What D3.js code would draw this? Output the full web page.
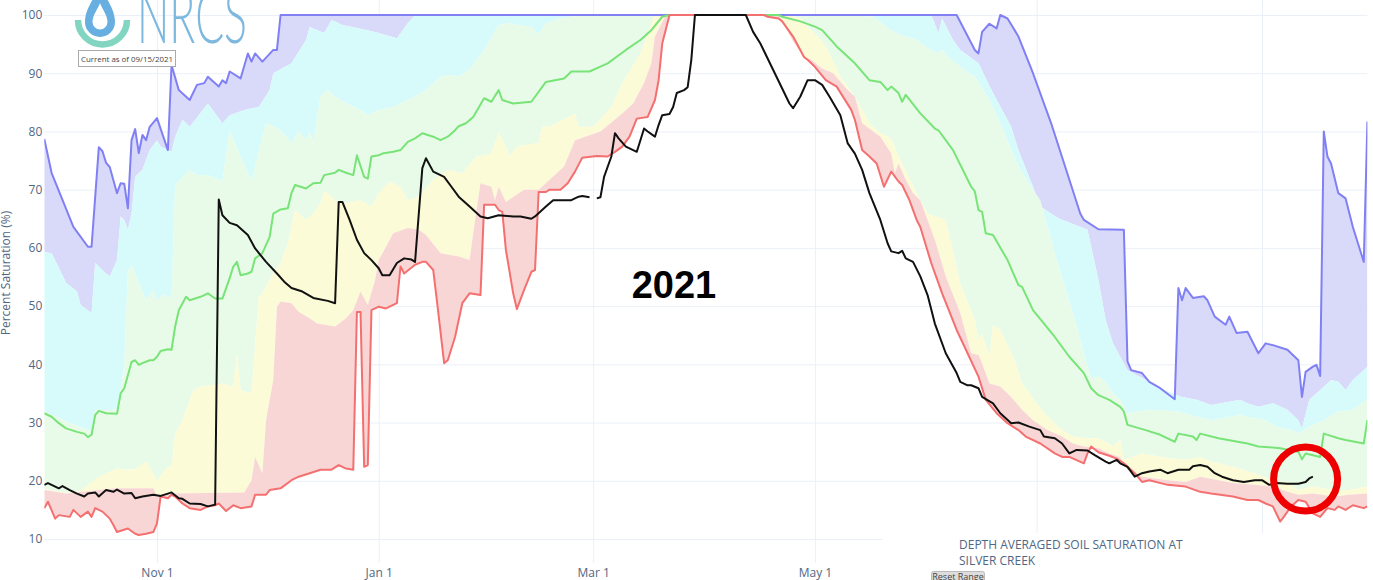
<!DOCTYPE html>
<html>
<head>
<meta charset="utf-8">
<script src="https://cdn.jsdelivr.net/npm/d3@7"></script>
<style>
  body { margin: 0; background: #fff; }
  svg { display: block; font-family: "Open Sans", sans-serif; }
</style>
</head>
<body>
<svg id="chart" width="1373" height="580"></svg>
<script>
// Depth averaged soil saturation, water year Oct 2020 - Sep 2021.
// dates are "MM-DD" (Oct-Dec = 2020, Jan-Sep = 2021), values in %
var maxSat = [["10-01",78.7],["10-03",72.9],["10-09",63.6],["10-13",60.2],["10-14",60.2],["10-16",77.3],["10-17",76.6],["10-18",74.6],["10-19",73.9],["10-21",69.4],["10-22",71.1],["10-23",71.0],["10-24",66.8],["10-25",78.5],["10-26",80.4],["10-27",76.3],["10-28",79.4],["10-29",78.5],["10-30",80.8],["11-01",82.3],["11-04",76.8],["11-05",91.4],["11-07",87.1],["11-10",85.4],["11-12",88],["11-14",88.3],["11-15",89.4],["11-18",87.7],["11-19",88.8],["11-20",88.3],["11-21",90.3],["11-24",89.1],["11-26",93.4],["11-27",92],["11-28",93.4],["11-30",92],["12-03",94],["12-04",94],["12-05",100],["06-09",100],["06-14",94],["06-15",93.4],["06-16",97.1],["06-18",98.5],["06-20",97.7],["06-21",100],["06-23",99.4],["06-26",96.3],["06-30",90],["07-05",81.4],["07-13",65.9],["07-14",64.8],["07-18",63.2],["07-25",63.1],["07-26",40.5],["07-27",39],["07-30",38.5],["08-01",37],["08-04",35.9],["08-08",34],["08-09",53.1],["08-10",51],["08-11",53.1],["08-13",51.4],["08-16",51.7],["08-17",51],["08-19",48.2],["08-22",46.8],["08-23",48.2],["08-25",45.4],["08-28",45.6],["08-31",41.9],["09-02",43.6],["09-04",43.3],["09-08",42.5],["09-11",40.7],["09-12",34.4],["09-13",38.7],["09-15",39.6],["09-16",39.9],["09-17",38],["09-18",80],["09-19",75.7],["09-20",74.5],["09-22",69.4],["09-24",68.5],["09-26",63.6],["09-29",57.6],["09-30",81.7]];

var p90 = [["10-01",59.3],["10-03",59.1],["10-07",54],["10-10",52.5],["10-11",50.2],["10-14",48.8],["10-15",57.4],["10-18",55.6],["10-19",55.1],["10-21",57.9],["10-22",65.4],["10-23",64.8],["10-24",63.1],["10-25",65.9],["10-26",72.2],["10-28",73.4],["10-30",76.8],["11-01",78.5],["11-02",77.4],["11-05",76.5],["11-06",79.1],["11-08",82],["11-10",80.8],["11-15",84.8],["11-19",81.4],["11-21",82.8],["11-25",83.7],["11-29",84.2],["12-02",87.1],["12-03",90],["12-08",91.7],["12-12",95.7],["12-13",98],["12-14",97.7],["12-17",96.9],["12-19",99.1],["12-20",98.9],["12-22",98.3],["12-29",97.4],["01-01",96.9],["01-06",96],["01-09",98.6],["01-11",100],["06-02",100],["06-04",96.9],["06-05",99.4],["06-08",95.7],["06-10",94],["06-15",91.7],["06-19",86.6],["06-24",80.8],["06-26",76.8],["06-30",70.5],["07-02",67.1],["07-07",65.1],["07-15",63.1],["07-18",54.5],["07-20",47.6],["07-22",43.6],["07-26",39],["07-31",37.3],["08-06",35.3],["08-10",34.4],["08-14",33.9],["08-18",33],["08-26",33.9],["08-28",33.3],["08-31",32.7],["09-04",33.3],["09-08",32.2],["09-11",30.4],["09-12",29],["09-14",33.9],["09-17",35.6],["09-20",37.3],["09-22",37],["09-24",35.6],["09-26",37.3],["09-30",39.6]];

var p70 = [["10-01",32],["10-06",30.5],["10-11",29.2],["10-14",28.5],["10-15",32.2],["10-19",32.1],["10-21",32.3],["10-22",35.5],["10-23",40],["10-24",56],["10-25",57],["10-29",51],["10-31",52.7],["11-01",51],["11-03",52],["11-05",51.4],["11-06",70.8],["11-10",73.4],["11-12",72.5],["11-15",72.5],["11-19",71.4],["11-21",80.2],["11-24",75.7],["11-27",71.4],["12-01",81.4],["12-05",80.2],["12-08",78],["12-10",80],["12-12",78.5],["12-13",80],["12-14",78],["12-16",86],["12-18",87.1],["12-20",86],["12-23",84.8],["12-27",83.7],["12-29",82.8],["01-01",83.7],["01-05",84.2],["01-07",84.8],["01-11",86],["01-14",87.1],["01-18",89.4],["01-20",89.7],["01-23",89.4],["01-26",90.6],["01-30",94],["02-03",98.3],["02-06",98.6],["02-08",98.3],["02-12",98],["02-14",96.6],["02-16",98.6],["02-20",99.4],["02-26",100],["05-11",100],["05-17",99.7],["05-20",98.3],["05-23",96.9],["05-29",95.7],["06-01",94.3],["06-04",93.4],["06-05",94],["06-07",92.6],["06-11",90.6],["06-14",89.4],["06-18",85.4],["06-21",81.4],["06-24",76.8],["06-26",74],["06-30",70],["07-02",68.2],["07-06",59.1],["07-09",52.8],["07-12",46.5],["07-15",39.6],["07-16",37.6],["07-18",37.9],["07-20",37],["07-22",35],["07-24",33.9],["07-26",31.6],["08-01",32.2],["08-09",31.9],["08-14",31],["08-18",30.4],["08-26",31.3],["08-28",31],["09-02",30.4],["09-05",29.3],["09-09",28.7],["09-11",28.1],["09-14",29.3],["09-18",30.4],["09-22",31.9],["09-26",32.2],["09-30",33.9]];

var median = [["10-01",31.6],["10-03",31],["10-05",29.9],["10-07",29],["10-10",28.4],["10-12",28.1],["10-13",27.5],["10-14",27.9],["10-15",31.3],["10-16",32],["10-18",31.6],["10-21",31.5],["10-22",35],["10-23",35.9],["10-25",40.4],["10-26",40.7],["10-27",39.9],["10-28",40.2],["10-30",40.7],["10-31",40.7],["11-01",41.3],["11-02",42.3],["11-04",42.6],["11-05",42.5],["11-06",46.5],["11-07",49.3],["11-09",51.6],["11-10",51],["11-13",51.6],["11-15",52.2],["11-17",51.3],["11-19",51.3],["11-21",54.8],["11-22",56.8],["11-23",57.6],["11-24",55.3],["11-26",55.6],["11-27",55.9],["11-28",58.2],["11-30",59.1],["12-02",61.9],["12-03",65.9],["12-05",66.6],["12-07",66.8],["12-08",69.4],["12-09",70.8],["12-12",70.2],["12-14",71.1],["12-16",71.2],["12-17",72.5],["12-20",72.9],["12-21",73.4],["12-23",72.9],["12-25",72.5],["12-26",75.9],["12-28",72.2],["12-29",71.9],["12-30",75.7],["01-01",75.9],["01-02",76.2],["01-05",76.5],["01-07",76.8],["01-09",78.2],["01-11",78.8],["01-13",79.7],["01-16",79.1],["01-18",78.5],["01-20",79.1],["01-22",80.2],["01-23",80.9],["01-25",81.4],["01-27",82.5],["01-30",85.7],["02-01",85.1],["02-03",87.1],["02-04",85.4],["02-07",84.8],["02-12",85.1],["02-16",88.5],["02-21",89.1],["02-23",90.3],["02-28",90.3],["03-05",91.7],["03-10",94],["03-14",95.7],["03-17",97.4],["03-20",99.7],["03-22",100],["04-21",100],["04-22",99.7],["04-27",98.9],["05-01",98],["05-03",97.4],["05-07",94.6],["05-12",91.7],["05-16",88.8],["05-19",88.5],["05-21",87.1],["05-22",87.7],["05-24",86.6],["05-25",85.1],["05-26",86.3],["05-30",83.1],["06-03",80.5],["06-04",80.2],["06-08",76.8],["06-13",70.5],["06-14",69.7],["06-15",66.5],["06-16",66.2],["06-17",62.5],["06-19",62.2],["06-23",57.9],["06-26",53.6],["06-27",53.3],["06-30",49.3],["07-06",44.7],["07-10",41.3],["07-14",38.5],["07-16",35.9],["07-18",34.7],["07-21",33.9],["07-24",32.7],["07-25",31.9],["07-26",29.6],["07-31",28.7],["08-04",27.9],["08-08",26.7],["08-09",28.1],["08-13",27.6],["08-14",27],["08-15",28.1],["08-20",27.3],["08-28",26.4],["08-31",25.9],["09-06",25.6],["09-11",25],["09-12",23.7],["09-13",24.7],["09-17",24.1],["09-18",28.1],["09-22",27.3],["09-24",27],["09-29",26.4],["09-30",30.4]];

var p30 = [["10-01",18.6],["10-07",18],["10-11",18.3],["10-13",19.3],["10-16",20.7],["10-21",22.1],["10-23",21.9],["10-26",22],["10-29",23.3],["11-01",20.1],["11-04",22.4],["11-05",22.4],["11-06",28.1],["11-08",30.4],["11-11",35.6],["11-13",36.2],["11-16",36.4],["11-19",36.7],["11-22",36.2],["11-23",41.9],["11-24",35.6],["11-27",35],["11-29",51.6],["11-30",52.2],["12-03",55.6],["12-05",57.4],["12-07",60.8],["12-09",66.5],["12-12",64.8],["12-14",65.9],["12-16",67.7],["12-17",69.7],["12-18",69.4],["12-20",68.2],["12-23",67.7],["12-27",68.2],["12-30",67.1],["01-01",69.4],["01-04",71.4],["01-07",70.5],["01-09",68.2],["01-12",68.8],["01-16",71.7],["01-20",73.4],["01-24",72.8],["01-27",75.1],["01-28",75.7],["02-01",76.2],["02-03",79.7],["02-05",77.4],["02-06",75.7],["02-08",77.4],["02-14",78],["02-15",80.8],["02-17",80.8],["02-24",83.1],["02-25",80.8],["03-01",80.8],["03-06",84.2],["03-09",88.3],["03-14",93.4],["03-17",98.6],["03-18",100],["04-24",100],["04-27",99.4],["05-01",96.8],["05-03",95.5],["05-05",93.4],["05-08",89.4],["05-12",86],["05-16",81.4],["05-19",79.7],["05-22",78.8],["05-24",75.7],["05-29",69.4],["06-01",65.9],["06-06",64.8],["06-10",53.9],["06-14",47.6],["06-15",44.2],["06-16",45.3],["06-18",41.3],["06-19",46.8],["06-21",45.9],["06-25",40.7],["06-27",36.7],["07-01",33.3],["07-04",31],["07-08",28.7],["07-11",27.6],["07-15",27.3],["07-18",27.3],["07-21",26.4],["07-22",25.9],["07-24",27],["07-25",23.6],["07-30",24.7],["08-06",23.9],["08-11",23.6],["08-15",24.1],["08-18",23.3],["08-24",22.4],["08-30",21.3],["09-04",20.1],["09-08",19.8],["09-11",18.4],["09-15",19],["09-21",18.4],["09-25",18.4],["09-30",19]];

var p10 = [["10-01",18.4],["10-07",17.8],["10-16",18.4],["10-21",18.7],["10-31",18.7],["11-01",17.3],["11-04",17.8],["11-25",18],["11-27",20.1],["11-28",24.1],["11-30",21.3],["12-01",30.4],["12-03",37.3],["12-04",49.9],["12-05",50.8],["12-08",50.5],["12-10",49],["12-13",47.9],["12-15",47],["12-20",46.5],["12-23",47.9],["12-25",49.3],["12-27",52.5],["12-29",50.2],["12-31",54.5],["01-01",57.9],["01-05",62.5],["01-09",63.4],["01-12",63.1],["01-14",62.2],["01-18",59.1],["01-23",58.5],["01-26",57.9],["01-27",62.5],["01-29",71.1],["02-01",70.5],["02-02",68.2],["02-03",70.5],["02-05",67.9],["02-10",70],["02-14",70],["02-17",71.7],["02-21",74],["02-24",78.5],["03-03",80],["03-09",83.1],["03-12",84.8],["03-15",88.3],["03-17",91.7],["03-18",96.3],["03-21",100],["04-21",100],["04-25",95.5],["04-28",92.8],["04-30",92.3],["05-03",90.8],["05-06",90],["05-10",87.1],["05-12",86],["05-14",81.4],["05-19",79.1],["05-22",76.2],["05-23",72.8],["05-24",74.5],["05-26",71.7],["05-28",69.4],["05-30",68.2],["06-03",61.4],["06-06",55.1],["06-10",48.8],["06-13",41.9],["06-15",41.6],["06-16",40.2],["06-18",36.7],["06-21",36.2],["06-24",34.4],["06-27",32.2],["06-30",30.4],["07-04",28.7],["07-08",27.6],["07-11",26.4],["07-14",25.9],["07-18",25.6],["07-21",24.7],["07-24",24.1],["07-26",21.9],["07-30",20.7],["08-06",20.1],["08-11",19.8],["08-15",20.7],["08-20",20.1],["08-24",19.6],["08-30",19.3],["09-04",19],["09-08",18.1],["09-11",17.6],["09-15",17.8],["09-21",17.3],["09-25",17.6],["09-30",17.8]];

var minSat = [["10-01",15.3],["10-02",16.4],["10-04",13.5],["10-05",14.1],["10-08",13.8],["10-09",15],["10-11",13.8],["10-13",14.7],["10-14",13.8],["10-15",15.3],["10-17",14.7],["10-19",13.5],["10-20",12.4],["10-21",11.2],["10-24",11.8],["10-26",10.9],["10-27",10.7],["10-29",10.9],["10-31",11.2],["11-01",12.7],["11-02",17.3],["11-04",17],["11-05",17.6],["11-06",17.3],["11-08",16.1],["11-10",15.3],["11-13",15],["11-15",15.6],["11-17",15.8],["11-18",16.1],["11-20",14.8],["11-22",15.8],["11-24",15.3],["11-27",15.6],["11-28",17.6],["12-01",17.6],["12-02",18.4],["12-05",18.7],["12-08",20.1],["12-10",20.7],["12-13",21.3],["12-16",21.9],["12-19",21.9],["12-21",22.7],["12-23",22.1],["12-25",21.9],["12-26",49],["12-27",49],["12-28",22.4],["12-29",22.7],["12-30",49.3],["01-01",49.9],["01-03",49.6],["01-06",50.5],["01-07",56.8],["01-08",55.6],["01-11",57.1],["01-13",57.6],["01-14",57.6],["01-16",56.2],["01-17",51],["01-19",40.2],["01-20",40.7],["01-22",44.7],["01-24",50.5],["01-26",52.2],["01-29",51.9],["01-30",67.4],["02-02",67.4],["02-03",66.5],["02-04",66.2],["02-05",59.6],["02-07",52.2],["02-08",49.5],["02-10",52.8],["02-12",55.9],["02-13",56.2],["02-14",69.6],["02-16",69.6],["02-17",70],["02-20",70],["02-22",71.1],["02-24",73.1],["02-26",75.5],["03-02",75.8],["03-05",75.7],["03-07",76.5],["03-09",77.4],["03-11",79.1],["03-13",82.2],["03-16",82.5],["03-18",85.4],["03-19",88.8],["03-20",95.1],["03-22",100],["04-17",100],["04-18",99.7],["04-21",99.4],["04-22",98.9],["04-25",96.3],["04-28",92.8],["04-29",92.3],["05-01",91.1],["05-04",88.8],["05-07",87.7],["05-11",83.7],["05-12",82],["05-14",76.8],["05-16",75.7],["05-18",74.5],["05-20",70.5],["05-22",73.1],["05-24",71.4],["05-25",70.8],["05-27",68.2],["05-29",64.8],["05-30",63.6],["06-02",57.4],["06-05",52.2],["06-09",45.9],["06-12",41.9],["06-15",37.9],["06-17",33.9],["06-20",31.6],["06-23",29.9],["06-26",28.7],["06-28",27.6],["07-02",26.4],["07-06",24.7],["07-08",24.1],["07-10",24.1],["07-14",23],["07-15",24.7],["07-16",25.9],["07-18",24.9],["07-21",24.3],["07-23",23.8],["07-25",23],["07-28",21.3],["07-30",19.8],["08-01",20.1],["08-06",19.3],["08-11",19],["08-15",18.1],["08-18",17.8],["08-24",17.3],["08-28",16.7],["08-31",16.7],["09-02",16.1],["09-04",15.6],["09-06",13],["09-07",13.8],["09-09",15.6],["09-11",16.7],["09-13",16.4],["09-15",14.4],["09-17",13.8],["09-19",15.3],["09-21",15],["09-22",15.6],["09-24",15],["09-26",15.8],["09-29",15.3],["09-30",15.6]];

// current water year (2021); null = missing reading
var wy2021 = [["10-01",19.3],["10-02",19.6],["10-04",19],["10-05",18.7],["10-06",19.1],["10-08",18.4],["10-10",17.8],["10-12",17.3],["10-13",17.8],["10-15",18],["10-16",17.3],["10-18",18.4],["10-20",18.1],["10-21",18.5],["10-23",17.8],["10-25",17.9],["10-26",17],["10-28",17.3],["10-31",17.6],["11-02",17.4],["11-04",17.8],["11-05",18],["11-07",17],["11-08",16.9],["11-10",16.1],["11-13",16],["11-15",15.6],["11-17",15.9],["11-18",68.3],["11-19",65.6],["11-21",64.3],["11-23",63.9],["11-26",62.2],["11-28",59.9],["12-01",57.6],["12-04",55.6],["12-06",54.2],["12-08",53.1],["12-11",52.5],["12-14",51.4],["12-18",50.9],["12-20",50.5],["12-21",67.9],["12-22",67.9],["12-24",64.8],["12-26",61.4],["12-28",59.1],["12-30",57.9],["01-01",56.5],["01-02",55.3],["01-04",55.3],["01-06",57.4],["01-08",58.2],["01-10",58],["01-11",57.6],["01-13",73.7],["01-14",75.4],["01-16",73.1],["01-19",72.2],["01-21",70.5],["01-23",68.8],["01-26",67.1],["01-29",65.4],["01-31",65.1],["02-03",65.6],["02-07",65.4],["02-09",65.4],["02-12",65],["02-13",65.4],["02-16",67.1],["02-18",68.2],["02-23",68.2],["02-25",68.8],["02-26",68.9],["02-28",68.7],["03-01",null],["03-02",68.5],["03-03",68.7],["03-04",72.2],["03-06",75.7],["03-07",79.7],["03-08",78.8],["03-10",77.4],["03-13",76.5],["03-14",78.5],["03-15",80.5],["03-16",80],["03-18",79.1],["03-19",81.1],["03-20",82.8],["03-22",83],["03-23",84.2],["03-24",86.6],["03-26",87.1],["03-27",87.6],["03-28",92.3],["03-29",100],["04-12",100],["04-14",97.1],["04-16",95.1],["04-24",84.8],["04-25",84],["04-27",86],["04-29",88.8],["05-01",88.8],["05-03",88],["05-05",86],["05-08",82.8],["05-10",78],["05-12",76.2],["05-14",73.4],["05-16",69.4],["05-19",64.8],["05-21",60.8],["05-22",59.4],["05-24",59.1],["05-25",59.5],["05-26",58.2],["05-28",57.6],["05-30",55.1],["06-01",51.9],["06-03",47],["06-06",41.9],["06-09",38.5],["06-10",37],["06-12",36.4],["06-13",36.4],["06-15",35.9],["06-16",34.4],["06-19",33.3],["06-21",31.6],["06-24",29.9],["06-26",30],["06-29",29.3],["07-02",28.7],["07-03",27.6],["07-06",27.3],["07-08",26.4],["07-10",24.7],["07-12",25.3],["07-15",25.2],["07-17",24.4],["07-20",23.3],["07-21",23],["07-23",23.6],["07-24",23],["07-26",22.4],["07-28",20.7],["07-30",21.3],["08-01",21.6],["08-04",21.9],["08-06",21.3],["08-09",21.9],["08-12",21.9],["08-13",22.5],["08-15",22.7],["08-17",22.4],["08-19",21.3],["08-21",20.7],["08-24",20.1],["08-27",19.8],["08-30",20.1],["09-01",20.1],["09-03",19.3],["09-05",19.6],["09-08",19.5],["09-11",19.5],["09-13",19.8],["09-14",20.4],["09-15",20.7]];

var yTicks = [10, 20, 30, 40, 50, 60, 70, 80, 90, 100];
var currentMark = ["09-13", 20.3];   // circled latest reading
var yearLabel = "2021";
var titleLines = ["DEPTH AVERAGED SOIL SATURATION AT", "SILVER CREEK"];

function toDate(md) {
    var m = +md.slice(0, 2);
    return new Date(Date.UTC(m >= 10 ? 2020 : 2021, m - 1, +md.slice(3)));
}
function rows(arr) {
    return arr.map(function(d) { return {date: toDate(d[0]), value: d[1]}; });
}

var svg = d3.select("#chart");
var W = 1373, H = 580;
var left = 44.3, right = 1367.4, bottom = 563;
var textCol = "#506784";

var x = d3.scaleUtc()
    .domain([toDate("10-01"), toDate("09-30")])
    .range([left, right]);
var y = d3.scaleLinear().domain([10, 100]).range([539, 15]);

// grid + axes
svg.append("g")
    .attr("transform", "translate(" + left + ",0)")
    .call(d3.axisLeft(y).tickValues(yTicks).tickSize(-(right - left)).tickPadding(2))
    .call(function(g) {
        g.select(".domain").remove();
        g.selectAll("line").attr("stroke", "#ebf0f8");
        g.selectAll("text").attr("fill", textCol).style("font-size", "12px").attr("font-family", "Open Sans");
    });

svg.append("g")
    .attr("transform", "translate(0," + bottom + ")")
    .call(d3.axisBottom(x).ticks(d3.utcMonth.every(2)).tickFormat(d3.utcFormat("%b %-d")).tickSize(-bottom).tickPadding(5))
    .call(function(g) {
        g.select(".domain").remove();
        g.selectAll("line").attr("stroke", "#ebf0f8");
        g.selectAll("text").attr("fill", textCol).style("font-size", "12px").attr("font-family", "Open Sans");
    });

svg.append("text")
    .attr("transform", "translate(10,273) rotate(-90)")
    .attr("text-anchor", "middle")
    .attr("fill", textCol)
    .style("font-size", "12px")
    .text("Percent Saturation (%)");

// data layers
svg.append("clipPath").attr("id", "plotclip")
    .append("rect").attr("x", left).attr("y", 0).attr("width", right - left).attr("height", bottom);
var plot = svg.append("g").attr("clip-path", "url(#plotclip)");

var line = d3.line()
    .defined(function(d) { return d.value != null; })
    .x(function(d) { return x(d.date); })
    .y(function(d) { return y(d.value); });

function band(lower, upper) {
    var pts = upper.concat(lower.slice().reverse());
    return line(pts) + "Z";
}

var sMax = rows(maxSat), s90 = rows(p90), s70 = rows(p70), sMed = rows(median),
    s30 = rows(p30), s10 = rows(p10), sMin = rows(minSat), sCur = rows(wy2021);

var bands = [
    {lo: s90, hi: sMax, fill: "#d9d9f9"},
    {lo: s70, hi: s90, fill: "#d7fbfb"},
    {lo: s30, hi: s70, fill: "#e8fbe8"},
    {lo: s10, hi: s30, fill: "#fbfbd7"},
    {lo: sMin, hi: s10, fill: "#f9d6d6"}
];
plot.selectAll(".band")
    .data(bands)
    .enter().append("path")
    .attr("class", "band")
    .attr("d", function(b) { return band(b.lo, b.hi); })
    .attr("fill", function(b) { return b.fill; });

var lines = [
    {data: sMax, color: "#8080f4", w: 2},
    {data: sMed, color: "#78e478", w: 2},
    {data: sMin, color: "#f47070", w: 2},
    {data: sCur, color: "#111111", w: 2}
];
plot.selectAll(".series")
    .data(lines)
    .enter().append("path")
    .attr("class", "series")
    .attr("d", function(l) { return line(l.data); })
    .attr("fill", "none")
    .attr("stroke", function(l) { return l.color; })
    .attr("stroke-width", function(l) { return l.w; })
    .attr("stroke-linejoin", "round");

// big year label
svg.append("text")
    .attr("x", 674)
    .attr("y", 298)
    .attr("text-anchor", "middle")
    .attr("font-family", "Liberation Sans, Arial, sans-serif")
    .attr("font-weight", "bold")
    .style("font-size", "38px")
    .attr("fill", "#000")
    .text(yearLabel);

// red circle around latest value
svg.append("circle")
    .attr("cx", x(toDate(currentMark[0])))
    .attr("cy", y(currentMark[1]))
    .attr("r", 32)
    .attr("fill", "none")
    .attr("stroke", "#ee0000")
    .attr("stroke-width", 7);

// title box in the lower right
svg.append("rect")
    .attr("x", 882).attr("y", 533).attr("width", W - 882).attr("height", H - 533)
    .attr("fill", "#fff");
svg.selectAll(".title")
    .data(titleLines)
    .enter().append("text")
    .attr("class", "title")
    .attr("x", 959)
    .attr("y", function(d, i) { return 549 + i * 16; })
    .attr("fill", textCol)
    .style("font-size", "12px")
    .text(function(d) { return d; });

svg.append("rect")
    .attr("x", 931.5).attr("y", 571.5).attr("width", 53).attr("height", 14).attr("rx", 2)
    .attr("fill", "#dddddd").attr("stroke", "#bbbbbb");
svg.append("text")
    .attr("x", 958).attr("y", 580)
    .attr("text-anchor", "middle")
    .attr("fill", "#444")
    .style("font-size", "9px")
    .text("Reset Range");

// NRCS logo
var logo = svg.append("g");
logo.append("path")
    .attr("d", "M78,20 A24.5,24.5 0 0 0 127,20")
    .attr("fill", "none")
    .attr("stroke", "#82d5c0")
    .attr("stroke-width", 6.5);
logo.append("path")
    .attr("d", "M100,-14 C96,-4 85,8 85,22 A15,15 0 0 0 115,22 C115,8 104,-4 100,-14 Z " +
               "M100,3 C98,9 92.5,15 92.5,22 A7.5,7.5 0 0 0 107.5,22 C107.5,15 102,9 100,3 Z")
    .attr("fill", "#66afe0")
    .attr("fill-rule", "evenodd");
logo.append("text")
    .attr("x", 137).attr("y", 43)
    .attr("font-family", "Lato, Open Sans, sans-serif")
    .attr("font-weight", 300)
    .style("font-size", "74px")
    .attr("textLength", 110)
    .attr("lengthAdjust", "spacingAndGlyphs")
    .attr("fill", "#7db9de")
    .text("NRCS");
logo.append("rect")
    .attr("x", 78.5).attr("y", 50.5).attr("width", 97).attr("height", 16)
    .attr("fill", "#fff").attr("stroke", "#aaaaaa");
logo.append("text")
    .attr("x", 81).attr("y", 62)
    .attr("fill", "#444")
    .style("font-size", "8px")
    .attr("textLength", 92)
    .attr("lengthAdjust", "spacingAndGlyphs")
    .text("Current as of 09/15/2021");
</script>
</body>
</html>
